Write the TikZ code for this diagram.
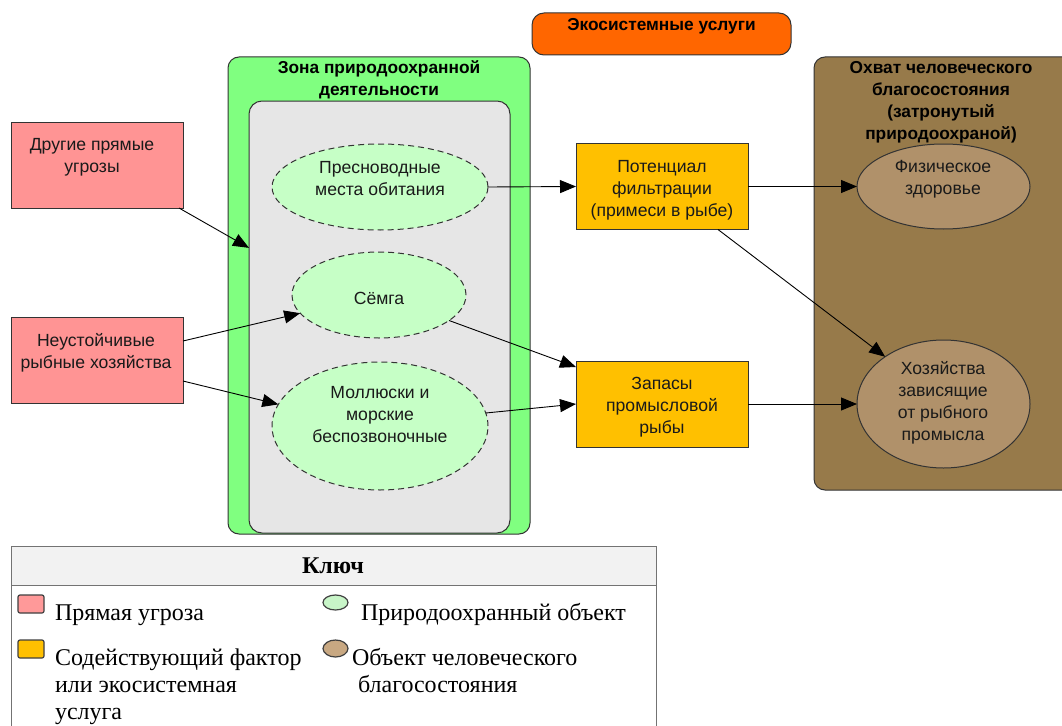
\documentclass[tikz,border=0pt]{standalone}
\usepackage{fontspec}
\setmainfont{Liberation Sans}
\newfontfamily\keyfont{Liberation Serif}
\usetikzlibrary{shapes.geometric,arrows.meta,calc}

\definecolor{svcOrange}{HTML}{FF6600}
\definecolor{zoneGreen}{HTML}{80FF80}
\definecolor{coreGray}{HTML}{E6E6E6}
\definecolor{targetGreen}{HTML}{C6FFC6}
\definecolor{threatRed}{HTML}{FF9494}
\definecolor{factorYellow}{HTML}{FFC000}
\definecolor{wellBrown}{HTML}{977A4A}
\definecolor{wellTan}{HTML}{B0916A}
\definecolor{keyHead}{HTML}{F2F2F2}
\definecolor{iconRed}{HTML}{FF9999}
\definecolor{iconGreen}{HTML}{C8F5C8}
\definecolor{iconTan}{HTML}{C8A882}
\definecolor{ink}{HTML}{1A1A1A}

\begin{document}
\begin{tikzpicture}[x=1pt,y=-1pt,
  every node/.style={inner sep=0pt,outer sep=0pt},
  txt/.style={font=\fontsize{17.6}{22}\selectfont, align=center, text=ink},
  ttl/.style={font=\fontsize{17.3}{22}\selectfont\bfseries, align=center, text=black},
  frame/.style={draw=black!80, line width=1pt},
  threat/.style={frame, rectangle, fill=threatRed, minimum width=172pt, minimum height=86pt},
  factor/.style={frame, rectangle, fill=factorYellow, minimum width=172pt, minimum height=86pt},
  target/.style={draw=black!80, line width=1pt, dash pattern=on 6pt off 4pt, ellipse, fill=targetGreen},
  wellbeing/.style={frame, ellipse, fill=wellTan},
  link/.style={draw=black, line width=0.9pt, -{Triangle[length=16pt,width=13pt]}},
  keytxt/.style={font=\keyfont\fontsize{24}{27}\selectfont, text=black, align=left},
  keyicon/.style={draw=black!75, line width=1.2pt}
]
\clip (0,0) rectangle (1062,725);
\fill[white] (0,0) rectangle (1062,725);

% group frames
\node[frame, fill=svcOrange, rounded corners=12pt, minimum width=259pt, minimum height=42pt] (svc) at (661.5,34) {};
\node[ttl, anchor=north] (svc-t) at (661.5,18) {Экосистемные услуги};

\node[frame, fill=zoneGreen, rounded corners=11pt, minimum width=302pt, minimum height=477pt] (zone) at (379,295.5) {};
\node[ttl, anchor=north] (zone-t) at (379,61) {Зона природоохранной\\деятельности};
\node[frame, fill=coreGray, rounded corners=13pt, minimum width=261pt, minimum height=432pt] (core) at (379.5,317) {};

\node[frame, fill=wellBrown, rounded corners=11pt, minimum width=266pt, minimum height=433pt] (scope) at (947,273.5) {};
\node[ttl, anchor=north] (scope-t) at (941,61) {Охват человеческого\\благосостояния\\(затронутый\\природоохраной)};

% direct threats
\node[threat] (thr1) at (97,165) {};
\node[txt] (thr1-t) at (92,157) {Другие прямые\\угрозы};
\node[threat] (thr2) at (97,360.5) {};
\node[txt] (thr2-t) at (96,353) {Неустойчивые\\рыбные хозяйства};

% conservation targets
\node[target, minimum width=216pt, minimum height=86pt] (fresh) at (380,187) {};
\node[txt] (fresh-t) at (380,179) {Пресноводные\\места обитания};
\node[target, minimum width=174pt, minimum height=86pt] (salmon) at (379,295) {};
\node[txt] (salmon-t) at (379,298) {Сёмга};
\node[target, minimum width=216pt, minimum height=128pt] (mollusc) at (380,426) {};
\node[txt] (mollusc-t) at (380,415) {Моллюски и\\морские\\беспозвоночные};

% ecosystem services
\node[factor] (filt) at (662,186.5) {};
\node[txt] (filt-t) at (662,190) {Потенциал\\фильтрации\\(примеси в рыбе)};
\node[factor] (stock) at (662,404) {};
\node[txt] (stock-t) at (662,407) {Запасы\\промысловой\\рыбы};

% human wellbeing targets
\node[wellbeing, minimum width=173pt, minimum height=85pt] (health) at (943.5,186.5) {};
\node[txt] (health-t) at (943,179) {Физическое\\здоровье};
\node[wellbeing, minimum width=173pt, minimum height=128pt] (fishery) at (943.5,404) {};
\node[txt] (fishery-t) at (943,403) {Хозяйства\\зависящие\\от рыбного\\промысла};

% connectors
\coordinate (core-in) at ($(core.north west)!0.34!(core.south west)$);
\draw[link] ([xshift=-4pt]thr1.south east) -- (core-in);
\draw[link] ([yshift=19.5pt]thr2.east) -- (salmon.193);
\draw[link] ([yshift=-20.5pt]thr2.east) -- (mollusc.168);
\draw[link] (fresh.east) -- (filt.west);
\draw[link] (salmon.-20) -- ([yshift=37pt]stock.west);
\draw[link] (mollusc.7) -- (stock.west);
\draw[link] (filt.east) -- (health.west);
\draw[link] ([xshift=56pt]filt.south) -- (fishery.141);
\draw[link] (stock.east) -- (fishery.west);

% key
\node[draw=black!55, line width=1pt, anchor=north west, minimum width=645pt, minimum height=214pt] (key) at (11,546) {};
\node[draw=black!55, line width=1pt, fill=keyHead, anchor=north west, minimum width=645pt, minimum height=39pt] (key-head) at (11,546) {};
\node[keytxt, font=\keyfont\bfseries\fontsize{24}{27}\selectfont, anchor=base] (key-t) at (333,573) {Ключ};

\node[keyicon, fill=iconRed, rounded corners=2pt, minimum width=26pt, minimum height=18pt] (key-red) at (31,604) {};
\node[keytxt, anchor=base west] (key-red-t) at (55,620) {Прямая угроза};
\node[keyicon, fill=factorYellow, rounded corners=2pt, minimum width=26pt, minimum height=18pt] (key-yel) at (31,649) {};
\node[keytxt, anchor=north west] (key-yel-t) at (55,648.5) {Содействующий фактор\\или экосистемная\\услуга};

\node[keyicon, ellipse, fill=iconGreen, minimum width=25pt, minimum height=15pt] (key-grn) at (335.5,602.5) {};
\node[keytxt, anchor=base west] (key-grn-t) at (361,620) {Природоохранный объект};
\node[keyicon, ellipse, fill=iconTan, minimum width=25pt, minimum height=17pt] (key-tan) at (335.5,648.5) {};
\node[keytxt, anchor=north west] (key-tan-t) at (352,648.5) {Объект человеческого\\\hspace*{6pt}благосостояния};
\end{tikzpicture}
\end{document}
